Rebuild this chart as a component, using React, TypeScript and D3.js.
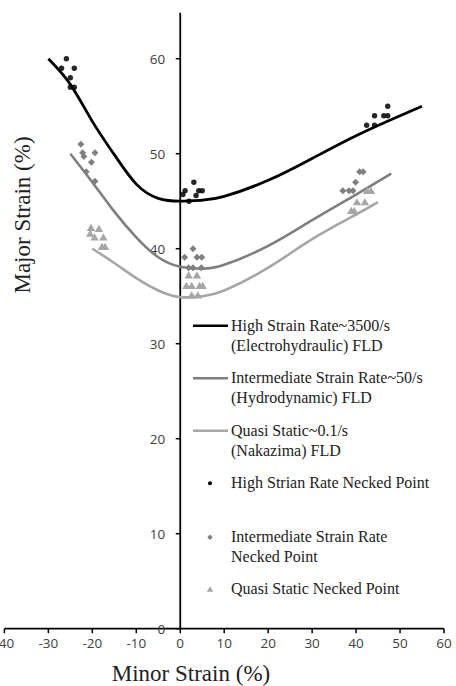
import React from 'react';
import * as d3 from 'd3';

// fitted FLD curves (minor, major)
const highCurve: [number, number][] = [
  [-30, 60], [-25, 57.3], [-20, 53.4], [-15, 49.9], [-10, 46.8], [-5, 45.3], [0, 45],
  [5, 45.1], [10, 45.5], [20, 47.2], [30, 49.5], [40, 51.9], [50, 54], [55, 55]
];
const midCurve: [number, number][] = [
  [-25, 50], [-20, 47], [-15, 43.9], [-10, 41.2], [-5, 39.1], [0, 38.1], [5, 37.9],
  [10, 38.3], [20, 40.3], [30, 43], [40, 45.7], [48, 47.9]
];
const lowCurve: [number, number][] = [
  [-20, 40], [-15, 38.5], [-10, 36.9], [-5, 35.6], [0, 34.9], [5, 35], [10, 35.6],
  [20, 38], [30, 41], [40, 43.6], [45, 44.9]
];

// necked points
const highPoints: [number, number][] = [
  [-27, 59], [-25.9, 60], [-24.1, 59], [-25, 58], [-25, 57], [-24.1, 57],
  [0.6, 45.7], [1.1, 46.1], [2, 45], [3.1, 47], [3.6, 45.6], [4.2, 46.1], [5, 46.1],
  [42.4, 53], [44.2, 53], [44.2, 54], [46.3, 54], [47.2, 54], [47.2, 55]
];
const midPoints: [number, number][] = [
  [-22.6, 51], [-22.2, 50.1], [-21.9, 49.7], [-19.4, 50.1], [-20.2, 49.1], [-21.4, 48.1], [-19.4, 47.1],
  [2.9, 40], [1, 39.1], [3.8, 39.1], [4.9, 39.1], [1.9, 38], [2.9, 38], [4.8, 38],
  [40.8, 48.1], [41.6, 48.1], [39.9, 47], [37, 46.1], [38.4, 46.1], [39.3, 46.1]
];
const lowPoints: [number, number][] = [
  [-20.3, 42.2], [-18.5, 42.1], [-20.5, 41.6], [-19.5, 41.2], [-17.5, 41.2], [-17.8, 40.2], [-17.1, 40.2],
  [1.9, 37.2], [3.8, 37.2], [1.4, 36.1], [2.6, 36.1], [4.4, 36.1], [5.1, 36.1], [2.6, 35.1], [4, 35.1],
  [42.5, 46.1], [43.4, 46.1], [40.2, 44.9], [42, 44.9], [38.9, 44], [39.6, 44]
];

const xTicks = [-40, -30, -20, -10, 0, 10, 20, 30, 40, 50, 60];
const yTicks = [0, 10, 20, 30, 40, 50, 60];

const lineLegend = [
  ['High Strain Rate~3500/s', '(Electrohydraulic) FLD'],
  ['Intermediate Strain Rate~50/s', '(Hydrodynamic) FLD'],
  ['Quasi Static~0.1/s', '(Nakazima) FLD']
];
const pointLegend = [
  ['High Strian Rate Necked Point'],
  ['Intermediate Strain Rate', 'Necked Point'],
  ['Quasi Static Necked Point']
];

const BLACK = '#000000';
const GRAY = '#7f7f7f';
const LIGHT = '#a6a6a6';

export default function App() {
  const x = d3.scaleLinear().domain([-40, 60]).range([4.4, 444]);
  const y = d3.scaleLinear().domain([0, 65]).range([628.7, 11.2]);

  const line = d3
    .line<[number, number]>()
    .x(d => x(d[0]))
    .y(d => y(d[1]))
    .curve(d3.curveNatural);

  const diamond = (s: number) => `M0,${-s}L${s},0L0,${s}L${-s},0Z`;
  const tri = (s: number) => `M0,${-s}L${s * 1.05},${s * 0.8}L${-s * 1.05},${s * 0.8}Z`;

  const tickFont = "'Open Sans', sans-serif";
  const serif = "'Liberation Serif', 'Times New Roman', serif";

  const curves = [
    { data: highCurve, color: BLACK, w: 2.8 },
    { data: midCurve, color: GRAY, w: 2.6 },
    { data: lowCurve, color: LIGHT, w: 2.6 }
  ];

  return (
    <svg
      width={456}
      height={686}
      style={{ position: 'absolute', left: 0, top: 0, background: '#fff' }}
    >
      {/* axes */}
      <line x1={x(-40)} x2={x(60)} y1={y(0)} y2={y(0)} stroke="#000" strokeWidth={1.8} />
      <line x1={x(0)} x2={x(0)} y1={y(0)} y2={12.7} stroke="#000" strokeWidth={1.8} />
      {xTicks.map(t => (
        <g key={'x' + t}>
          <line x1={x(t)} x2={x(t)} y1={y(0)} y2={y(0) + 4.5} stroke="#000" strokeWidth={1.5} />
          <text
            x={x(t)}
            y={y(0) + 19}
            textAnchor="middle"
            fontFamily={tickFont}
            fontSize={13.5}
            fill="#404040"
          >
            {t}
          </text>
        </g>
      ))}
      {yTicks.map(t => (
        <g key={'y' + t}>
          <line x1={x(0) - 4.5} x2={x(0)} y1={y(t)} y2={y(t)} stroke="#000" strokeWidth={1.5} />
          <text
            x={x(0) - 15}
            y={y(t) + 4.8}
            textAnchor="end"
            fontFamily={tickFont}
            fontSize={13.5}
            fill="#404040"
          >
            {t}
          </text>
        </g>
      ))}

      {/* curves */}
      {curves.map((c, i) => (
        <path key={'c' + i} d={line(c.data) || ''} fill="none" stroke={c.color} strokeWidth={c.w} />
      ))}

      {/* points */}
      {highPoints.map((p, i) => (
        <circle key={'h' + i} cx={x(p[0])} cy={y(p[1])} r={2.7} fill={BLACK} opacity={0.85} />
      ))}
      {midPoints.map((p, i) => (
        <path key={'m' + i} d={diamond(3.5)} transform={`translate(${x(p[0])},${y(p[1])})`} fill={GRAY} />
      ))}
      {lowPoints.map((p, i) => (
        <path key={'l' + i} d={tri(4)} transform={`translate(${x(p[0])},${y(p[1])})`} fill={LIGHT} />
      ))}

      {/* legend */}
      {lineLegend.map((lbl, i) => {
        const ly = 325.7 + i * 52.5;
        return (
          <g key={'ll' + i}>
            <line x1={193} x2={228} y1={ly} y2={ly} stroke={curves[i].color} strokeWidth={2.6} />
            {lbl.map((s, j) => (
              <text key={j} x={231} y={ly + 5 + j * 20} fontFamily={serif} fontSize={16} fill="#222">
                {s}
              </text>
            ))}
          </g>
        );
      })}
      {pointLegend.map((lbl, i) => {
        const ly = [483.3, 537.3, 589.3][i];
        return (
          <g key={'pl' + i}>
            {i === 0 && <circle cx={210} cy={ly} r={2} fill={BLACK} />}
            {i === 1 && <path d={diamond(2.7)} transform={`translate(210,${ly})`} fill={GRAY} />}
            {i === 2 && <path d={tri(3)} transform={`translate(210,${ly})`} fill={LIGHT} />}
            {lbl.map((s, j) => (
              <text key={j} x={231} y={ly + 5 + j * 20} fontFamily={serif} fontSize={16} fill="#222">
                {s}
              </text>
            ))}
          </g>
        );
      })}

      {/* axis titles */}
      <text x={191} y={681} textAnchor="middle" fontFamily={serif} fontSize={23} fill="#222">
        Minor Strain (%)
      </text>
      <text
        transform="translate(30,215) rotate(-90)"
        textAnchor="middle"
        fontFamily={serif}
        fontSize={23}
        fill="#222"
      >
        Major Strain (%)
      </text>
    </svg>
  );
}
